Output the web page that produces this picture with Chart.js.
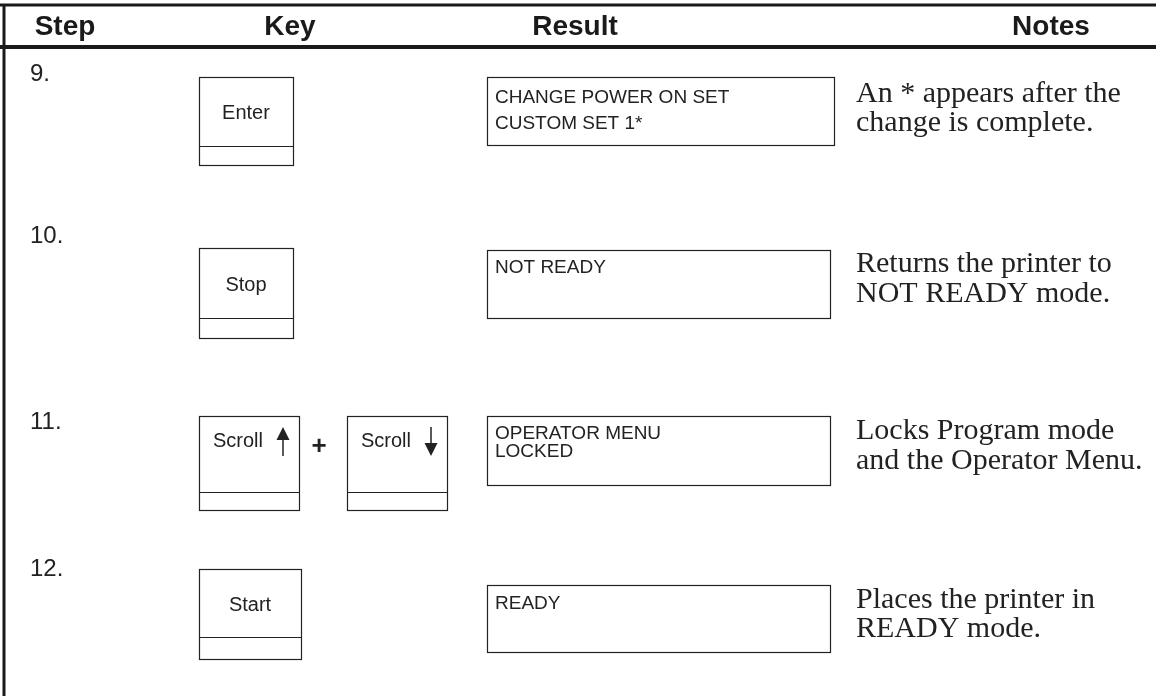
<!DOCTYPE html>
<html>
<head>
<meta charset="utf-8">
<script src="https://cdn.jsdelivr.net/npm/chart.js@4"></script>
<style>
  html, body { margin: 0; padding: 0; background: #fff; }
  canvas { display: block; }
</style>
</head>
<body>
<canvas id="table" width="1156" height="696"></canvas>
<script>
// Table content
const headers = ['Step', 'Key', 'Result', 'Notes'];
const steps = ['9.', '10.', '11.', '12.'];
const keys = [['Enter'], ['Stop'], ['Scroll up', 'Scroll down'], ['Start']];
const results = [
    ['CHANGE POWER ON SET', 'CUSTOM SET 1*'],
    ['NOT READY'],
    ['OPERATOR MENU', 'LOCKED'],
    ['READY']
];
const notes = [
    ['An * appears after the', 'change is complete.'],
    ['Returns the printer to', 'NOT READY mode.'],
    ['Locks Program mode', 'and the Operator Menu.'],
    ['Places the printer in', 'READY mode.']
];

// Layout (page units, mapped through the chart scales)
const layout = {
    headerX: [65, 290, 575, 1051],
    headerY: 27,
    topLine: 5,
    headLine: 47,
    leftLine: 4,
    stepX: 30,
    rows: [
        { num: 73, key: [77, 146, 165], keyW: [199, 293], res: [77, 145, 834], resText: [98, 124], note: [94, 123] },
        { num: 235, key: [248, 318, 338], keyW: [199, 293], res: [250, 318, 830], resText: [268], note: [264, 294] },
        { num: 421, key: [416, 492, 510], res: [416, 485, 830], resText: [434, 452], note: [431, 461] },
        { num: 568, key: [569, 637, 659], keyW: [199, 301], res: [585, 652, 830], resText: [604], note: [600, 629] }
    ],
    scrollBoxes: [[199, 299], [347, 447]],
    plusX: 319,
    resX: 487,
    resTextX: 495,
    noteX: 856
};

const tablePlugin = {
    id: 'tablePlugin',
    afterDraw(chart) {
        const ctx = chart.ctx;
        const sx = chart.scales.x, sy = chart.scales.y;
        const px = v => sx.getPixelForValue(v);
        const py = v => sy.getPixelForValue(v);

        ctx.save();
        ctx.strokeStyle = '#222';

        // header rules and left rule
        ctx.fillStyle = '#1a1a1a';
        ctx.fillRect(px(0), py(layout.topLine) - 1.5, px(1156) - px(0), 3);
        ctx.fillRect(px(0), py(layout.headLine) - 2, px(1156) - px(0), 4);
        ctx.fillRect(px(layout.leftLine) - 1.5, py(layout.topLine), 3, py(696) - py(layout.topLine));

        // header text
        ctx.font = 'bold 28px "Liberation Sans", Arial, sans-serif';
        ctx.textAlign = 'center';
        ctx.textBaseline = 'middle';
        headers.forEach((h, i) => ctx.fillText(h, px(layout.headerX[i]), py(layout.headerY)));

        ctx.fillStyle = '#222';
        layout.rows.forEach((r, i) => {
            // step number
            ctx.font = '24px "Liberation Sans", Arial, sans-serif';
            ctx.textAlign = 'left';
            ctx.fillText(steps[i], px(layout.stepX), py(r.num + 1));

            // key boxes
            ctx.lineWidth = 1.2;
            const boxes = keys[i].length > 1 ? layout.scrollBoxes : [r.keyW];
            boxes.forEach((b, k) => {
                const x0 = px(b[0]), x1 = px(b[1]);
                const y0 = py(r.key[0]), yd = py(r.key[1]), y1 = py(r.key[2]);
                ctx.strokeRect(x0 + 0.5, y0 + 0.5, x1 - x0, y1 - y0);
                ctx.beginPath();
                ctx.moveTo(x0, yd + 0.5);
                ctx.lineTo(x1, yd + 0.5);
                ctx.stroke();

                ctx.font = '20px "Liberation Sans", Arial, sans-serif';
                const label = keys[i][k];
                const cy = (y0 + yd) / 2;
                if (label.startsWith('Scroll')) {
                    ctx.textAlign = 'left';
                    ctx.fillText('Scroll', x0 + 14, y0 + 25);
                    // arrow
                    const ax = x0 + 84;
                    const up = label.endsWith('up');
                    const tip = up ? y0 + 11 : y0 + 40;
                    const tail = up ? y0 + 40 : y0 + 11;
                    const head = up ? tip + 13 : tip - 13;
                    ctx.lineWidth = 1.5;
                    ctx.beginPath();
                    ctx.moveTo(ax, tail);
                    ctx.lineTo(ax, head);
                    ctx.stroke();
                    ctx.beginPath();
                    ctx.moveTo(ax, tip);
                    ctx.lineTo(ax - 6.5, head);
                    ctx.lineTo(ax + 6.5, head);
                    ctx.closePath();
                    ctx.fill();
                    ctx.lineWidth = 1.2;
                } else {
                    ctx.textAlign = 'center';
                    ctx.fillText(label, (x0 + x1) / 2, cy + 2);
                }
            });
            if (keys[i].length > 1) {
                ctx.font = 'bold 26px "Liberation Sans", Arial, sans-serif';
                ctx.textAlign = 'center';
                ctx.fillText('+', px(layout.plusX), py(r.key[0] + 31));
            }

            // result display
            const rx0 = px(layout.resX), rx1 = px(r.res[2]);
            const ry0 = py(r.res[0]), ry1 = py(r.res[1]);
            ctx.strokeRect(rx0 + 0.5, ry0 + 0.5, rx1 - rx0, ry1 - ry0);
            ctx.font = '19px "Liberation Sans", Arial, sans-serif';
            ctx.textAlign = 'left';
            results[i].forEach((t, j) => ctx.fillText(t, px(layout.resTextX), py(r.resText[j])));

            // notes
            ctx.font = '30px "Liberation Serif", "Times New Roman", serif';
            notes[i].forEach((t, j) => ctx.fillText(t, px(layout.noteX), py(r.note[j])));
        });
        ctx.restore();
    }
};

new Chart(document.getElementById('table'), {
    type: 'scatter',
    data: { datasets: [{ data: [] }] },
    options: {
        responsive: false,
        animation: false,
        layout: { padding: 0 },
        plugins: { legend: { display: false }, tooltip: { enabled: false } },
        scales: {
            x: { type: 'linear', min: 0, max: 1156, display: false },
            y: { type: 'linear', min: 0, max: 696, reverse: true, display: false }
        }
    },
    plugins: [tablePlugin]
});
</script>
</body>
</html>
